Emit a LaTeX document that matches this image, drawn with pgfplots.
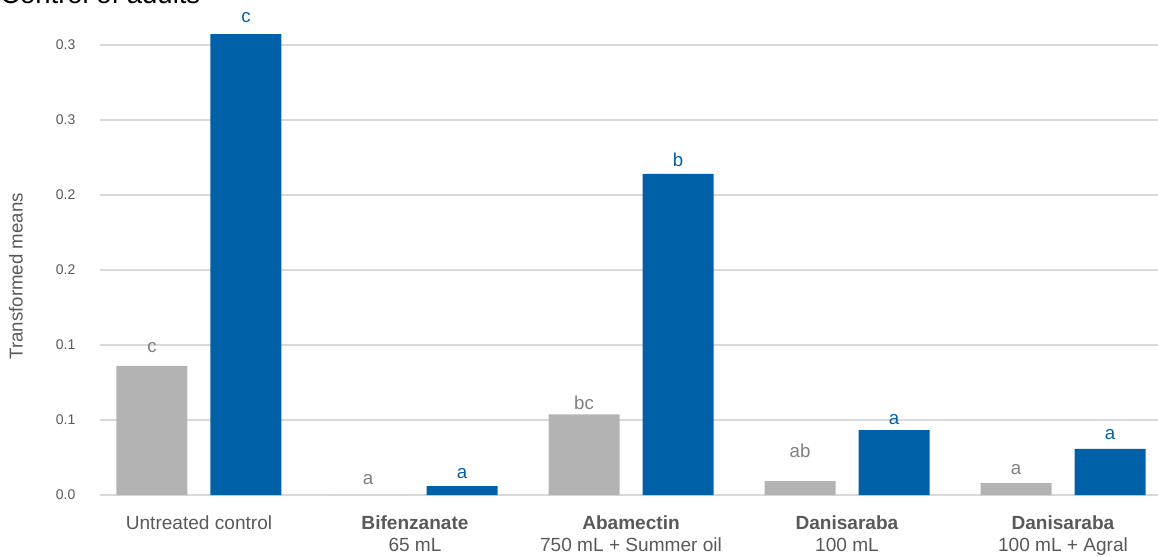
\documentclass[border=0pt]{standalone}
\usepackage{fontspec}
\setmainfont{Liberation Sans}
\usepackage{pgfplots}
\usepackage{pgfplotstable}
\pgfplotsset{compat=1.18}
\usetikzlibrary{calc}
\definecolor{barblue}{RGB}{0,97,168}
\definecolor{bargray}{RGB}{179,179,179}
\definecolor{txtgray}{RGB}{89,89,89}
\definecolor{lettergray}{RGB}{128,128,128}
\definecolor{gridgray}{RGB}{217,217,217}

\pgfplotstableread{
x y ly lab
0 0.0860 0.0953 c
1 0.0000 0.0067 a
2 0.0538 0.0573 bc
3 0.0093 0.0247 ab
4 0.0080 0.0140 a
}\graydata

\pgfplotstableread{
x y ly lab
0 0.3073 0.3153 c
1 0.0060 0.0107 a
2 0.2140 0.2193 b
3 0.0433 0.0467 a
4 0.0307 0.0367 a
}\bluedata

\begin{document}
\begin{tikzpicture}
\begin{axis}[
  name=ax, at={(0,0)}, anchor=south west,
  scale only axis, width=793.5pt, height=371.25pt,
  xmin=-0.4583, xmax=4.4398, ymin=0, ymax=0.33,
  axis line style={draw=none}, major tick length=0pt,
  ymajorgrids, grid style={gridgray, line width=1.5pt},
  ytick={0,0.05,0.1,0.15,0.2,0.25,0.3},
  yticklabels={0.0,0.1,0.1,0.2,0.2,0.3,0.3},
  yticklabel style={font=\fontsize{10.5}{12}\selectfont, text=txtgray, xshift=-15pt},
  xtick={0,1,2,3,4},
  xticklabels={Untreated control,
    {\textbf{Bifenzanate}\\65 mL},
    {\textbf{Abamectin}\\750 mL + Summer oil},
    {\textbf{Danisaraba}\\100 mL},
    {\textbf{Danisaraba}\\100 mL + Agral}},
  xticklabel style={align=center, font=\fontsize{14.3}{16.5}\selectfont, text=txtgray, yshift=-12pt},
  ylabel={Transformed means},
  every axis y label/.style={at={(axis description cs:-0.0794,0.442)}, rotate=90, anchor=center, font=\fontsize{14}{16}\selectfont, text=txtgray},
  clip=false,
]
\addplot[ybar, bar width=0.3287, bar shift=-0.2176, fill=bargray, draw=none] table[x=x, y=y] {\graydata};
\addplot[ybar, bar width=0.3287, bar shift=0.2176, fill=barblue, draw=none] table[x=x, y=y] {\bluedata};
\addplot[draw=none, mark=none, nodes near coords, point meta=explicit symbolic,
  every node near coord/.append style={anchor=base, inner sep=0pt, text=lettergray, font=\fontsize{14}{16}\selectfont}]
  table[x expr=\thisrow{x}-0.2176, y=ly, meta=lab] {\graydata};
\addplot[draw=none, mark=none, nodes near coords, point meta=explicit symbolic,
  every node near coord/.append style={anchor=base, inner sep=0pt, text=barblue, font=\fontsize{14}{16}\selectfont}]
  table[x expr=\thisrow{x}+0.2176, y=ly, meta=lab] {\bluedata};
\end{axis}
\node[anchor=base west, inner sep=0pt, font=\fontsize{20.6}{24}\selectfont] at ($(ax.north west)+(-75pt,-3pt)$) {Control of adults};
\pgfresetboundingbox
\path ($(ax.south west)+(-75pt,-45.75pt)$) rectangle (ax.north east);
\end{tikzpicture}
\end{document}
